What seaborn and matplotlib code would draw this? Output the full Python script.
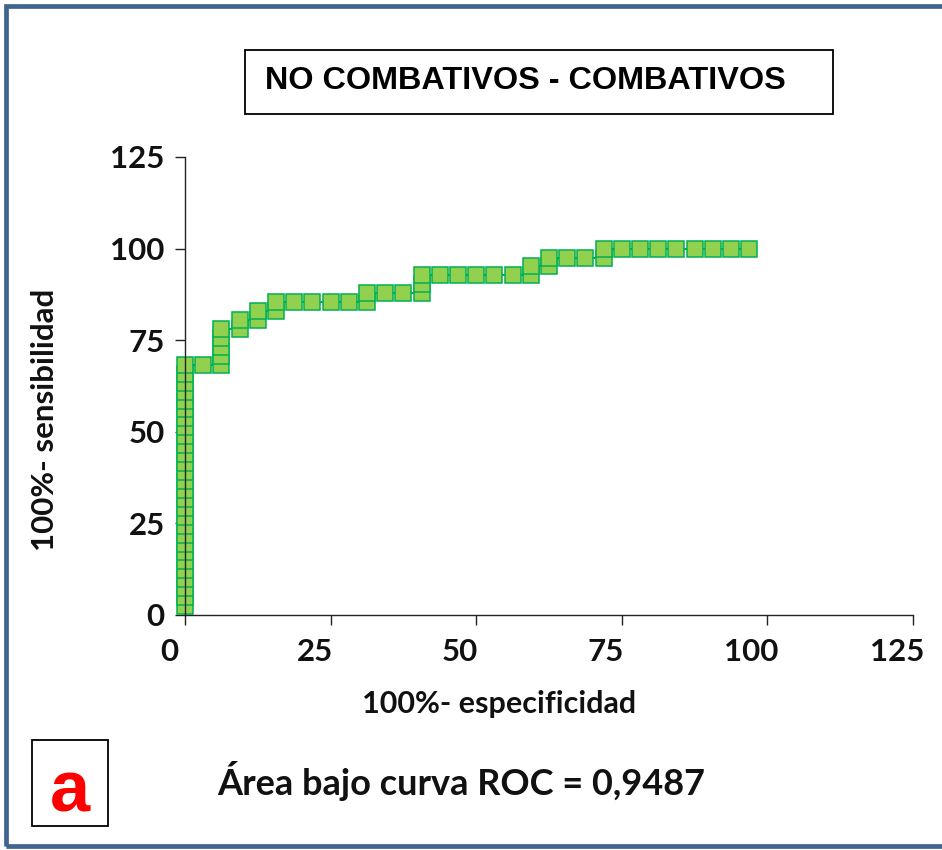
import matplotlib
matplotlib.use("Agg")
import matplotlib.pyplot as plt
from matplotlib.patches import Rectangle
from matplotlib.transforms import ScaledTranslation
import seaborn as sns
import pandas as pd

# ---- data ----
fpr = [0, 0, 0, 0, 0, 0, 0, 0, 0, 0, 0, 0, 0, 0, 0, 0, 0, 0, 0, 0, 0, 0, 0, 0, 0, 0, 0, 0,
       3.13, 6.25, 6.25, 6.25, 6.25, 6.25, 9.38, 9.38, 12.5, 12.5, 15.63, 15.63,
       18.75, 21.88, 25.0, 28.13, 31.25, 31.25, 34.38, 37.5, 40.63, 40.63, 40.63,
       43.75, 46.88, 50.0, 53.13, 56.25, 59.38, 59.38, 62.5, 62.5, 65.63, 68.75,
       71.88, 71.88, 75.0, 78.13, 81.25, 84.38, 87.5, 90.63, 93.75, 96.88]
sens = [2.44, 4.88, 7.32, 9.76, 12.20, 14.63, 17.07, 19.51, 21.95, 24.39, 26.83, 29.27,
        31.71, 34.15, 36.59, 39.02, 41.46, 43.90, 46.34, 48.78, 51.22, 53.66, 56.10,
        58.54, 60.98, 63.41, 65.85, 68.29,
        68.29, 68.29, 70.73, 73.17, 75.61, 78.05, 78.05, 80.49, 80.49, 82.93, 82.93, 85.37,
        85.37, 85.37, 85.37, 85.37, 85.37, 87.80, 87.80, 87.80, 87.80, 90.24, 92.68,
        92.68, 92.68, 92.68, 92.68, 92.68, 92.68, 95.12, 95.12, 97.56, 97.56, 97.56,
        97.56, 100.0, 100.0, 100.0, 100.0, 100.0, 100.0, 100.0, 100.0, 100.0]
ticks = [0, 25, 50, 75, 100, 125]
title_text = "NO COMBATIVOS - COMBATIVOS"
xlabel_text = "100%- especificidad"
ylabel_text = "100%- sensibilidad"
auc_text = "Área bajo curva ROC = 0,9487"
panel_text = "a"

df = pd.DataFrame({"fpr": fpr, "sens": sens})

sns.set_style("ticks")
plt.rcParams["font.family"] = ["Lato", "DejaVu Sans"]

W, H = 942, 850
fig = plt.figure(figsize=(W / 100, H / 100), dpi=100)
ax = fig.add_axes([185 / W, (H - 615) / H, 728 / W, 458 / H])

LINE = "#00B050"
FILL = "#92D050"
sns.lineplot(data=df, x="fpr", y="sens", sort=False, estimator=None, ax=ax,
             color=LINE, linewidth=1.5, marker="s", markersize=11.4,
             markerfacecolor=FILL, markeredgecolor=LINE, markeredgewidth=1.1,
             clip_on=False, zorder=3)

ax.set_xlim(0, 125)
ax.set_ylim(0, 125)
ax.set_xticks(ticks)
ax.set_yticks(ticks)
ax.set_xticklabels([str(t) for t in ticks])
ax.set_yticklabels([str(t) for t in ticks])
ax.set_xlabel("")
ax.set_ylabel("")
for s in ["top", "right"]:
    ax.spines[s].set_visible(False)
for s in ["left", "bottom"]:
    ax.spines[s].set_linewidth(1.0)
    ax.spines[s].set_color("#222222")
    ax.spines[s].set_zorder(5)

ax.tick_params(axis="both", direction="out", length=7.5, width=1.0, color="#222222",
               labelsize=22.5, labelcolor="#111111")
ax.tick_params(axis="x", pad=9)
ax.tick_params(axis="y", pad=7)
for lab in ax.get_xticklabels() + ax.get_yticklabels():
    lab.set_fontweight("bold")
for lab in ax.get_xticklabels():
    lab.set_transform(lab.get_transform() + ScaledTranslation(-0.16, 0, fig.dpi_scale_trans))
# green ticks at the low end
for i in range(3):
    ax.yaxis.get_major_ticks()[i].tick1line.set_color(LINE)
ax.xaxis.get_major_ticks()[0].tick1line.set_color(LINE)

# axis labels as figure text (positions from reference)
fig.text(499 / W, (H - 704) / H, xlabel_text, ha="center", va="center",
         fontsize=22, fontweight="bold", color="#111111")
fig.text(45 / W, (H - 420) / H, ylabel_text, ha="center", va="center", rotation=90,
         fontsize=22.5, fontweight="bold", color="#111111")

# outer frame
fig.add_artist(Rectangle((6 / W, 4 / H), 1.2, (H - 10) / H, transform=fig.transFigure,
                         fill=False, edgecolor="#3F6591", linewidth=3.4, zorder=10))

# title box
fig.add_artist(Rectangle((245 / W, (H - 114) / H), 588 / W, 64 / H, transform=fig.transFigure,
                         fill=False, edgecolor="black", linewidth=1.3))
fig.text(265 / W, (H - 81) / H, title_text, ha="left", va="center", color="black",
         fontsize=23.3, fontweight="bold", family=["Liberation Sans", "DejaVu Sans"])

# panel label box
fig.add_artist(Rectangle((32 / W, (H - 826) / H), 76 / W, 86 / H, transform=fig.transFigure,
                         fill=False, edgecolor="black", linewidth=1.3))
fig.text(70 / W, (H - 793) / H, panel_text, ha="center", va="center", color="#FF0000",
         fontsize=52, fontweight="bold", family=["Liberation Sans", "DejaVu Sans"])

# AUC text
fig.text(461 / W, (H - 781) / H, auc_text, ha="center", va="center",
         fontsize=26, fontweight="bold", color="#111111")

fig.savefig("out.png", dpi=100)
